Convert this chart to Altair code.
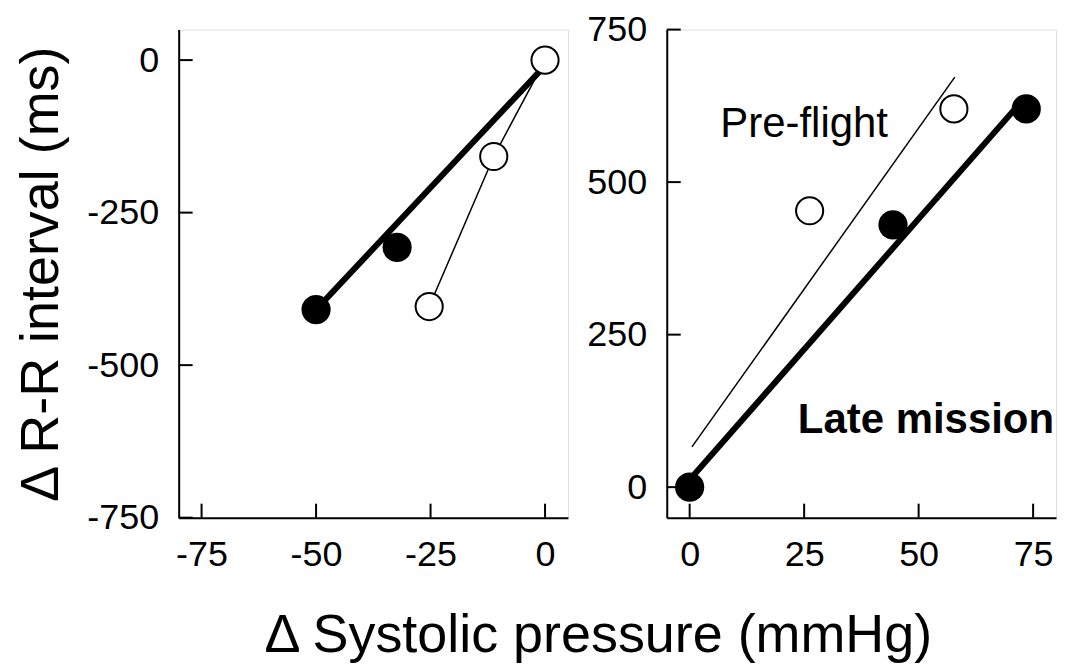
import altair as alt
import pandas as pd

FONT = "Liberation Sans"
W, H = 390, 489
TICK = 14

# ---------------- data ----------------
# Left panel
left_pre_x = [0, -11.2, -25.3]
left_pre_y = [0, -158, -404]
left_late_x = [-32.3, -50]
left_late_y = [-307, -409]
left_late_fit_x = [-50, 0]
left_late_fit_y = [-409, -9]

# Right panel
right_pre_x = [26.2, 57.7]
right_pre_y = [453, 620]
right_pre_fit_x = [0.5, 57.9]
right_pre_fit_y = [66, 672]
right_late_x = [0, 44.4, 73.5]
right_late_y = [0, 430, 620]
right_late_fit_x = [0, 72]
right_late_fit_y = [12, 628]

# axis tick values
left_xticks = [-75, -50, -25, 0]
left_yticks = [-750, -500, -250, 0]
right_xticks = [0, 25, 50, 75]
right_yticks = [0, 250, 500, 750]

left_xdomain = [-80, 5]
left_ydomain = [-750, 50]
right_xdomain = [-5, 80]
right_ydomain = [-50, 750]

annot_text = ["Pre-flight", "Late mission"]
annot_x = [25.0, 51.6]
annot_y = [574, 88]

y_title = "Δ R-R interval (ms)"
x_title = "Δ Systolic pressure (mmHg)"


def axis(values, title=None):
    kw = dict(
        values=values,
        ticks=False,
        tickSize=0,
        grid=False,
        domain=True,
        domainColor="black",
        domainWidth=2,
        labelFont=FONT,
        labelFontSize=36,
        labelColor="black",
        labelPadding=20,
        labelExpr="'' + datum.value",
    )
    if title is None:
        kw["title"] = None
    else:
        kw.update(
            title=title,
            titleFont=FONT,
            titleFontSize=54,
            titleFontWeight="normal",
            titleColor="black",
            titlePadding=18,
        )
    return alt.Axis(**kw)


def panel(xdom, ydom, xticks, yticks, ytitle, pre_x, pre_y, late_x, late_y,
          lines, texts=None):
    xs = alt.Scale(domain=xdom, nice=False, zero=False)
    ys = alt.Scale(domain=ydom, nice=False, zero=False)
    xax = axis(xticks)
    yax = axis(yticks, ytitle)

    def X(f):
        return alt.X(f, type="quantitative", scale=xs, axis=xax)

    def Y(f):
        return alt.Y(f, type="quantitative", scale=ys, axis=yax)

    layers = []
    # tick marks pointing inward
    layers.append(
        alt.Chart(pd.DataFrame({"t": xticks}))
        .mark_rule(color="black", strokeWidth=2)
        .encode(x=X("t"), y=alt.value(H), y2=alt.value(H - TICK))
    )
    layers.append(
        alt.Chart(pd.DataFrame({"t": yticks}))
        .mark_rule(color="black", strokeWidth=2)
        .encode(y=Y("t"), x=alt.value(0), x2=alt.value(TICK))
    )
    for lx, ly, lw in lines:
        df = pd.DataFrame({"x": lx, "y": ly, "o": list(range(len(lx)))})
        layers.append(
            alt.Chart(df)
            .mark_line(color="black", strokeWidth=lw, strokeCap="butt")
            .encode(x=X("x"), y=Y("y"), order="o:Q")
        )
    layers.append(
        alt.Chart(pd.DataFrame({"x": late_x, "y": late_y}))
        .mark_circle(size=855, color="black", opacity=1)
        .encode(x=X("x"), y=Y("y"))
    )
    layers.append(
        alt.Chart(pd.DataFrame({"x": pre_x, "y": pre_y}))
        .mark_circle(size=740, fill="white", stroke="black", strokeWidth=2,
                     opacity=1, fillOpacity=1)
        .encode(x=X("x"), y=Y("y"))
    )
    if texts:
        for t, tx, ty, bold in texts:
            layers.append(
                alt.Chart(pd.DataFrame({"x": [tx], "y": [ty], "t": [t]}))
                .mark_text(font=FONT, fontSize=42, color="black",
                           fontWeight="bold" if bold else "normal",
                           align="center", baseline="alphabetic")
                .encode(x=X("x"), y=Y("y"), text="t:N")
            )
    return alt.layer(*layers).properties(width=W, height=H)


left = panel(
    left_xdomain, left_ydomain, left_xticks, left_yticks, y_title,
    left_pre_x, left_pre_y, left_late_x, left_late_y,
    lines=[(left_late_fit_x, left_late_fit_y, 6),
           (left_pre_x, left_pre_y, 1.5)],
)

right = panel(
    right_xdomain, right_ydomain, right_xticks, right_yticks, None,
    right_pre_x, right_pre_y, right_late_x, right_late_y,
    lines=[(right_pre_fit_x, right_pre_fit_y, 1.5),
           (right_late_fit_x, right_late_fit_y, 6)],
    texts=[(annot_text[0], annot_x[0], annot_y[0], False),
           (annot_text[1], annot_x[1], annot_y[1], True)],
)

chart = (
    alt.hconcat(left, right, spacing=99, bounds="flush")
    .properties(
        title=alt.TitleParams(
            text=x_title,
            orient="bottom",
            anchor="middle",
            font=FONT,
            fontSize=54,
            fontWeight="normal",
            color="black",
            offset=36,
            dx=63,
        ),
        padding={"left": 6, "top": 2, "right": 5, "bottom": 5},
    )
    .configure_view(stroke=None)
    .configure(background="white")
)

chart.save("out.html", embed_options={"renderer": "svg", "actions": False})
